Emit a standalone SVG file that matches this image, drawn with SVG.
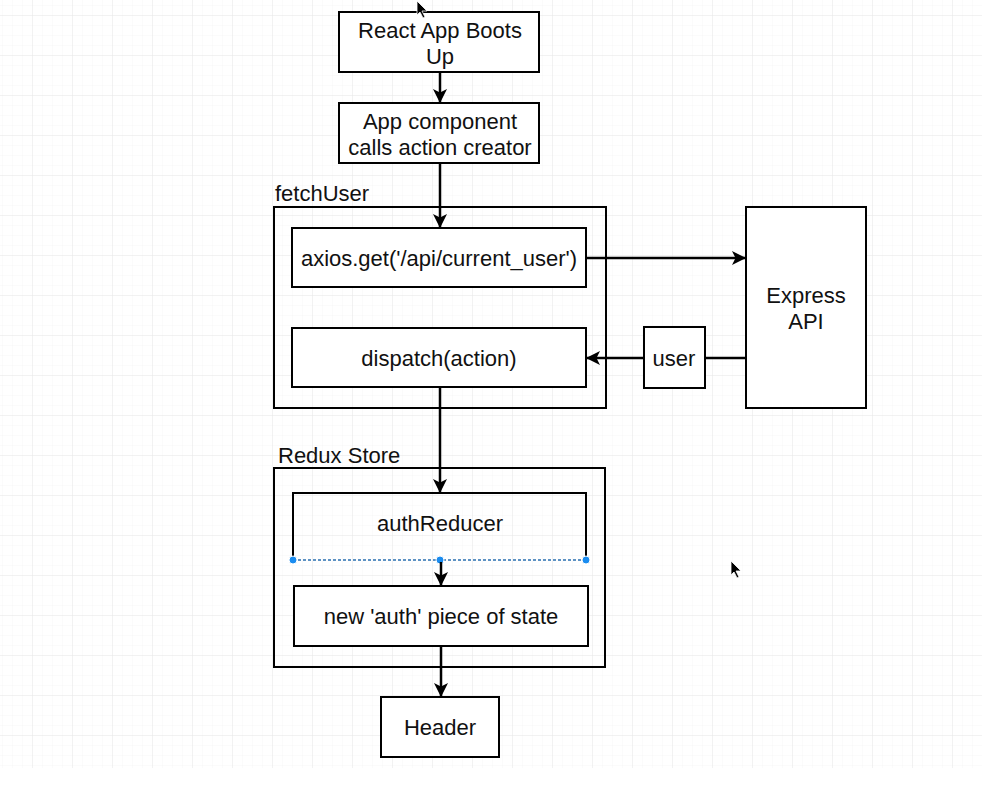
<svg xmlns="http://www.w3.org/2000/svg" width="982" height="800" viewBox="0 0 982 800">
<defs>
<pattern id="minor" x="-7" y="-4" width="10" height="10" patternUnits="userSpaceOnUse">
<path d="M10 0V10M0 10H10" fill="none" stroke="#f6f6f6" stroke-width="1"/>
</pattern>
<pattern id="major" x="-7" y="-24" width="40" height="40" patternUnits="userSpaceOnUse">
<path d="M40 0V40M0 40H40" fill="none" stroke="#e8e8e8" stroke-width="1"/>
</pattern>
<marker id="arr" viewBox="0 0 14 14" refX="13" refY="7" markerWidth="14" markerHeight="14" markerUnits="userSpaceOnUse" orient="auto">
<path d="M0 0L14 7L0 14L3.5 7Z" fill="#000"/>
</marker>
<style>
.box{fill:#fff;stroke:#000;stroke-width:2}
.grp{fill:none;stroke:#000;stroke-width:2}
.t{font-family:"Liberation Sans",Arial,sans-serif;font-size:22px;fill:#111;text-anchor:middle}
.lbl{font-family:"Liberation Sans",Arial,sans-serif;font-size:22px;fill:#111}
.c{fill:none;stroke:#000;stroke-width:2.5}
.h{fill:#1a8cf0;stroke:#fff;stroke-width:1}
</style>
</defs>
<rect width="982" height="800" fill="#fff"/>
<rect width="982" height="768" fill="url(#minor)"/>
<rect width="982" height="768" fill="url(#major)"/>

<g id="fetchUser">
<rect class="grp" x="274" y="207" width="332" height="201"/>
<text class="lbl" x="275" y="201">fetchUser</text>
</g>
<g id="reduxStore">
<rect class="grp" x="274" y="468" width="331" height="199"/>
<text class="lbl" x="278" y="463">Redux Store</text>
</g>

<g id="boots">
<rect class="box" x="339" y="12" width="200" height="60"/>
<text class="t" x="440" y="38">React App Boots</text>
<text class="t" x="440" y="64">Up</text>
</g>
<g id="appComponent">
<rect class="box" x="339" y="103" width="200" height="60"/>
<text class="t" x="440" y="129">App component</text>
<text class="t" x="440" y="155">calls action creator</text>
</g>
<g id="axios">
<rect class="box" x="292" y="228" width="294" height="59"/>
<text class="t" x="439" y="266">axios.get('/api/current_user')</text>
</g>
<g id="dispatch">
<rect class="box" x="292" y="328" width="294" height="59"/>
<text class="t" x="439" y="366">dispatch(action)</text>
</g>
<g id="express">
<rect class="box" x="746" y="207" width="120" height="201"/>
<text class="t" x="806" y="303">Express</text>
<text class="t" x="806" y="329">API</text>
</g>
<g id="user">
<rect class="box" x="644" y="327" width="61" height="61"/>
<text class="t" x="674" y="366">user</text>
</g>
<g id="authReducer">
<path class="grp" d="M293 560V493H586V560"/>
<text class="t" x="440" y="531">authReducer</text>
<line x1="293" y1="560" x2="586" y2="560" stroke="#2a6fb0" stroke-width="1.5" stroke-dasharray="3 2"/>
<circle class="h" cx="293" cy="560" r="4"/>
<circle class="h" cx="440" cy="560" r="4"/>
<circle class="h" cx="586" cy="560" r="4"/>
</g>
<g id="newAuth">
<rect class="box" x="294" y="586" width="294" height="60"/>
<text class="t" x="441" y="624">new 'auth' piece of state</text>
</g>
<g id="header">
<rect class="box" x="381" y="697" width="118" height="60"/>
<text class="t" x="440" y="735">Header</text>
</g>

<g id="connectors">
<line class="c" x1="440" y1="72" x2="440" y2="102" marker-end="url(#arr)"/>
<line class="c" x1="440" y1="163" x2="440" y2="227" marker-end="url(#arr)"/>
<line class="c" x1="586" y1="258" x2="745" y2="258" marker-end="url(#arr)"/>
<line class="c" x1="745" y1="358" x2="705" y2="358"/>
<line class="c" x1="644" y1="358" x2="587" y2="358" marker-end="url(#arr)"/>
<line class="c" x1="440" y1="387" x2="440" y2="492" marker-end="url(#arr)"/>
<line class="c" x1="441" y1="562" x2="441" y2="585" marker-end="url(#arr)"/>
<line class="c" x1="441" y1="646" x2="441" y2="696" marker-end="url(#arr)"/>
</g>

<g id="cursors">
<path d="M417 1L417 15L420 12L423 18L425 17L422 11L427 11Z" fill="#000" stroke="#fff" stroke-width="0.8"/>
<path d="M731 561L731 575L734 572L737 578L739 577L736 571L741 571Z" fill="#000" stroke="#fff" stroke-width="0.8"/>
</g>
</svg>
